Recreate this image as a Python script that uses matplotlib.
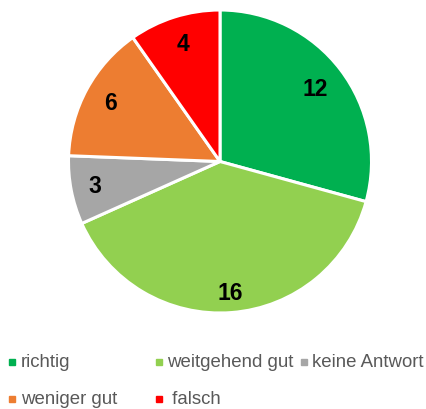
import numpy as np
import matplotlib.pyplot as plt
from matplotlib.lines import Line2D

# ==================== データ ====================
labels = ["richtig", "weitgehend gut", "keine Antwort", "weniger gut", " falsch"]
values = [12, 16, 3, 6, 4]
colors = ["#00B050", "#92D050", "#A6A6A6", "#ED7D31", "#FF0000"]

# ==================== レイアウト ====================
W, H = 427, 410
plt.rcParams["font.family"] = ["Liberation Sans", "DejaVu Sans"]

fig = plt.figure(figsize=(W / 100, H / 100), dpi=100)

# 円グラフの軸 (中心 ~(220,162), 半径 ~152 px)
cx, cy, r = 220, 162.5, 151.5
ax = fig.add_axes([(cx - r) / W, 1 - (cy + r) / H, 2 * r / W, 2 * r / H])

wedges, _ = ax.pie(
    values,
    colors=colors,
    startangle=90,
    counterclock=False,
    radius=1,
    wedgeprops=dict(edgecolor="white", linewidth=2.2),
)
ax.set_xlim(-1, 1)
ax.set_ylim(-1, 1)
ax.set_aspect("equal")
ax.axis("off")

# ラベル (値) を各扇形の中ほどに配置
label_dist = [0.79, 0.87, 0.84, 0.82, 0.82]
for w, v, d in zip(wedges, values, label_dist):
    ang = np.deg2rad((w.theta1 + w.theta2) / 2)
    ax.text(d * np.cos(ang), d * np.sin(ang), str(v), ha="center", va="center",
            fontsize=16.5, fontweight="bold", color="black")

# ==================== 凡例 ====================
legend_pos = [(12.5, 363), (159, 363), (304, 363), (12.5, 400), (159, 400)]
for (px, py), lab, col in zip(legend_pos, labels, colors):
    fig.add_artist(Line2D([px / W], [1 - py / H], marker="s", markersize=4.5,
                          color=col, linestyle="none", transform=fig.transFigure))
    fig.text((px + 8.5) / W, 1 - py / H, lab, ha="left", va="center",
             fontsize=13.4, color="#595959")

fig.savefig("out.png", dpi=100)
